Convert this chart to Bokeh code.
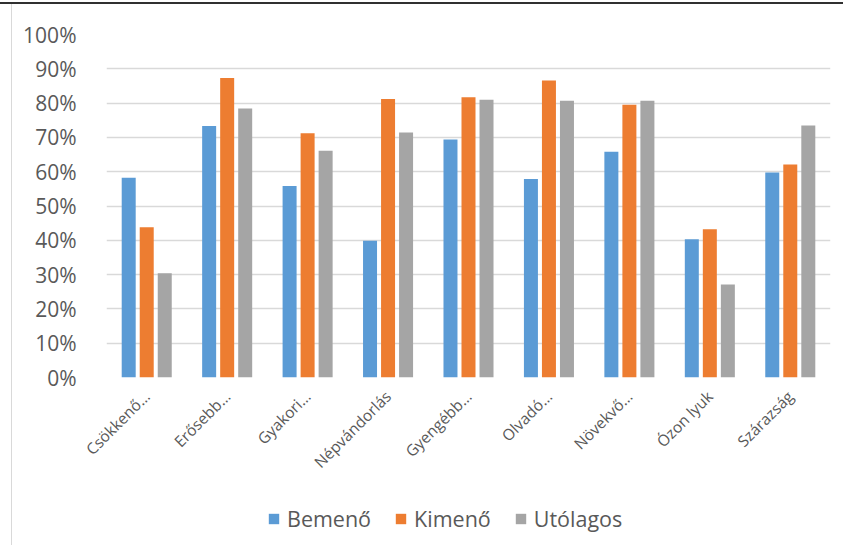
from math import pi
from bokeh.plotting import figure
from bokeh.layouts import column
from bokeh.models import (FactorRange, Range1d, FixedTicker, NumeralTickFormatter,
                          Legend, LegendItem, ColumnDataSource)
from bokeh.transform import dodge
from bokeh.embed import file_html
from bokeh.resources import INLINE

categories = ["Csökkenő…", "Erősebb…", "Gyakori…", "Népvándorlás", "Gyengébb…",
              "Olvadó…", "Növekvő…", "Ózon lyuk", "Szárazság"]
bemeno = [0.582, 0.733, 0.558, 0.399, 0.694, 0.579, 0.658, 0.403, 0.598]
kimeno = [0.438, 0.873, 0.712, 0.812, 0.817, 0.866, 0.795, 0.432, 0.621]
utolagos = [0.304, 0.784, 0.661, 0.714, 0.810, 0.807, 0.807, 0.271, 0.735]
series_names = ["Bemenő", "Kimenő", "Utólagos"]
y_ticks = [0.0, 0.1, 0.2, 0.3, 0.4, 0.5, 0.6, 0.7, 0.8, 0.9, 1.0]

colors = ["#5B9BD5", "#ED7D31", "#A5A5A5"]
FONT = "Open Sans"
TXT = "#595959"

src = ColumnDataSource(dict(cat=categories, b=bemeno, k=kimeno, u=utolagos))
cols = ["b", "k", "u"]
offsets = [-0.224, 0.0, 0.224]
w = 0.174

xr = FactorRange(factors=categories, range_padding=0)

# main chart
p = figure(width=843, height=486, x_range=xr,
           y_range=Range1d(0, 1), output_backend="svg", toolbar_location=None,
           min_border_left=106, min_border_right=13, min_border_top=30, min_border_bottom=113)
p.outline_line_color = None
p.background_fill_color = "white"
p.border_fill_color = None

for c, o, col in zip(cols, offsets, colors):
    p.vbar(x=dodge("cat", o, range=xr), top=c, width=w, source=src,
           fill_color=col, line_color=None)

p.ygrid.grid_line_color = "#d9d9d9"
p.ygrid.grid_line_width = 1.5
p.ygrid.level = "underlay"
p.xgrid.grid_line_color = None

p.yaxis.ticker = FixedTicker(ticks=y_ticks)
p.yaxis.formatter = NumeralTickFormatter(format="0%")
p.yaxis.axis_line_color = None
p.yaxis.major_tick_line_color = None
p.yaxis.minor_tick_line_color = None
p.yaxis.major_label_text_font = FONT
p.yaxis.major_label_text_font_size = "21px"
p.yaxis.major_label_text_color = TXT
p.yaxis.major_label_standoff = 24

p.xaxis.axis_line_color = None
p.xaxis.major_tick_line_color = None
p.xaxis.major_label_orientation = pi / 4
p.xaxis.major_label_text_font = FONT
p.xaxis.major_label_text_font_size = "15.5px"
p.xaxis.major_label_text_color = TXT
p.xaxis.major_label_standoff = 10

# legend strip (same series, drawn out of view; only the legend shows)
lg = figure(width=843, height=55, x_range=xr, y_range=Range1d(10, 11),
            output_backend="svg", toolbar_location=None,
            x_axis_location=None, y_axis_location=None,
            min_border_left=0, min_border_right=0, min_border_top=0, min_border_bottom=0)
lg.grid.visible = False
lg.outline_line_color = None
lg.background_fill_color = None
lg.border_fill_color = None
rs = [lg.vbar(x=dodge("cat", o, range=xr), top=c, width=w, source=src,
              fill_color=col, line_color=None)
      for c, o, col in zip(cols, offsets, colors)]

legend = Legend(items=[LegendItem(label=n, renderers=[r]) for n, r in zip(series_names, rs)],
                location=(161, 12), orientation="horizontal")
legend.border_line_color = None
legend.background_fill_alpha = 0
legend.padding = 0
legend.margin = 0
legend.spacing = 23
legend.glyph_width = 13
legend.glyph_height = 13
legend.label_standoff = 7
legend.label_text_font = FONT
legend.label_text_font_size = "21.5px"
legend.label_text_color = TXT
lg.add_layout(legend, "center")

layout = column(p, lg, spacing=0)
layout.styles = {
    "border-top": "2px solid #303030",
    "margin-top": "2px",
    "background": "linear-gradient(to right, white 11px, #d9d9d9 11px, #d9d9d9 12px, white 12px)",
}

open("out.html", "w").write(file_html(layout, INLINE))
